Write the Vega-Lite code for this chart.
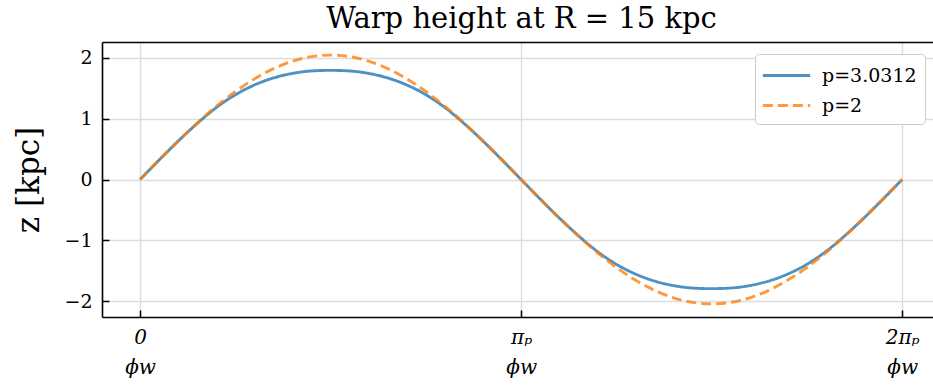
{
  "$schema": "https://vega.github.io/schema/vega-lite/v6.json",
  "autosize": {"type": "none"},
  "padding": {"left": 102, "top": 42, "right": 0, "bottom": 68},
  "width": 831,
  "height": 275,
  "background": "white",
  "title": {"text": "Warp height at R = 15 kpc", "font": "DejaVu Serif", "fontSize": 29, "fontWeight": "normal", "color": "black", "anchor": "middle", "dx": 4, "offset": 8},
  "config": {
    "view": {"stroke": null},
    "axis": {"domainColor": "black", "domainWidth": 1.6, "tickColor": "black", "tickWidth": 1.5, "gridColor": "#dddddd", "gridWidth": 1.4, "labelColor": "black", "titleColor": "black", "labelFont": "DejaVu Serif", "titleFont": "DejaVu Serif", "titleFontWeight": "normal"}
  },
  "data": {"values": [
    {"phi": 0, "z": 0, "p": "p=3.0312"},
    {"phi": 0.05, "z": 0.32, "p": "p=3.0312"},
    {"phi": 0.1, "z": 0.63, "p": "p=3.0312"},
    {"phi": 0.15, "z": 0.92, "p": "p=3.0312"},
    {"phi": 0.2, "z": 1.18, "p": "p=3.0312"},
    {"phi": 0.25, "z": 1.39, "p": "p=3.0312"},
    {"phi": 0.3, "z": 1.55, "p": "p=3.0312"},
    {"phi": 0.35, "z": 1.665, "p": "p=3.0312"},
    {"phi": 0.4, "z": 1.74, "p": "p=3.0312"},
    {"phi": 0.45, "z": 1.78, "p": "p=3.0312"},
    {"phi": 0.5, "z": 1.79, "p": "p=3.0312"},
    {"phi": 0.55, "z": 1.78, "p": "p=3.0312"},
    {"phi": 0.6, "z": 1.74, "p": "p=3.0312"},
    {"phi": 0.65, "z": 1.665, "p": "p=3.0312"},
    {"phi": 0.7, "z": 1.55, "p": "p=3.0312"},
    {"phi": 0.75, "z": 1.39, "p": "p=3.0312"},
    {"phi": 0.8, "z": 1.18, "p": "p=3.0312"},
    {"phi": 0.85, "z": 0.92, "p": "p=3.0312"},
    {"phi": 0.9, "z": 0.63, "p": "p=3.0312"},
    {"phi": 0.95, "z": 0.32, "p": "p=3.0312"},
    {"phi": 1.0, "z": 0, "p": "p=3.0312"},
    {"phi": 1.05, "z": -0.32, "p": "p=3.0312"},
    {"phi": 1.1, "z": -0.63, "p": "p=3.0312"},
    {"phi": 1.15, "z": -0.92, "p": "p=3.0312"},
    {"phi": 1.2, "z": -1.18, "p": "p=3.0312"},
    {"phi": 1.25, "z": -1.39, "p": "p=3.0312"},
    {"phi": 1.3, "z": -1.55, "p": "p=3.0312"},
    {"phi": 1.35, "z": -1.665, "p": "p=3.0312"},
    {"phi": 1.4, "z": -1.74, "p": "p=3.0312"},
    {"phi": 1.45, "z": -1.78, "p": "p=3.0312"},
    {"phi": 1.5, "z": -1.79, "p": "p=3.0312"},
    {"phi": 1.55, "z": -1.78, "p": "p=3.0312"},
    {"phi": 1.6, "z": -1.74, "p": "p=3.0312"},
    {"phi": 1.65, "z": -1.665, "p": "p=3.0312"},
    {"phi": 1.7, "z": -1.55, "p": "p=3.0312"},
    {"phi": 1.75, "z": -1.39, "p": "p=3.0312"},
    {"phi": 1.8, "z": -1.18, "p": "p=3.0312"},
    {"phi": 1.85, "z": -0.92, "p": "p=3.0312"},
    {"phi": 1.9, "z": -0.63, "p": "p=3.0312"},
    {"phi": 1.95, "z": -0.32, "p": "p=3.0312"},
    {"phi": 2.0, "z": 0, "p": "p=3.0312"},
    {"phi": 0, "z": 0, "p": "p=2"},
    {"phi": 0.05, "z": 0.319, "p": "p=2"},
    {"phi": 0.1, "z": 0.63, "p": "p=2"},
    {"phi": 0.15, "z": 0.926, "p": "p=2"},
    {"phi": 0.2, "z": 1.199, "p": "p=2"},
    {"phi": 0.25, "z": 1.443, "p": "p=2"},
    {"phi": 0.3, "z": 1.65, "p": "p=2"},
    {"phi": 0.35, "z": 1.818, "p": "p=2"},
    {"phi": 0.4, "z": 1.94, "p": "p=2"},
    {"phi": 0.45, "z": 2.015, "p": "p=2"},
    {"phi": 0.5, "z": 2.04, "p": "p=2"},
    {"phi": 0.55, "z": 2.015, "p": "p=2"},
    {"phi": 0.6, "z": 1.94, "p": "p=2"},
    {"phi": 0.65, "z": 1.818, "p": "p=2"},
    {"phi": 0.7, "z": 1.65, "p": "p=2"},
    {"phi": 0.75, "z": 1.443, "p": "p=2"},
    {"phi": 0.8, "z": 1.199, "p": "p=2"},
    {"phi": 0.85, "z": 0.926, "p": "p=2"},
    {"phi": 0.9, "z": 0.63, "p": "p=2"},
    {"phi": 0.95, "z": 0.319, "p": "p=2"},
    {"phi": 1.0, "z": 0, "p": "p=2"},
    {"phi": 1.05, "z": -0.319, "p": "p=2"},
    {"phi": 1.1, "z": -0.63, "p": "p=2"},
    {"phi": 1.15, "z": -0.926, "p": "p=2"},
    {"phi": 1.2, "z": -1.199, "p": "p=2"},
    {"phi": 1.25, "z": -1.443, "p": "p=2"},
    {"phi": 1.3, "z": -1.65, "p": "p=2"},
    {"phi": 1.35, "z": -1.818, "p": "p=2"},
    {"phi": 1.4, "z": -1.94, "p": "p=2"},
    {"phi": 1.45, "z": -2.015, "p": "p=2"},
    {"phi": 1.5, "z": -2.04, "p": "p=2"},
    {"phi": 1.55, "z": -2.015, "p": "p=2"},
    {"phi": 1.6, "z": -1.94, "p": "p=2"},
    {"phi": 1.65, "z": -1.818, "p": "p=2"},
    {"phi": 1.7, "z": -1.65, "p": "p=2"},
    {"phi": 1.75, "z": -1.443, "p": "p=2"},
    {"phi": 1.8, "z": -1.199, "p": "p=2"},
    {"phi": 1.85, "z": -0.926, "p": "p=2"},
    {"phi": 1.9, "z": -0.63, "p": "p=2"},
    {"phi": 1.95, "z": -0.319, "p": "p=2"},
    {"phi": 2.0, "z": 0, "p": "p=2"}
  ]},
  "resolve": {"axis": {"x": "independent"}},
  "layer": [
    {
      "mark": {"type": "line", "strokeWidth": 2.9, "opacity": 0.8, "interpolate": "monotone"},
      "encoding": {
        "x": {"field": "phi", "type": "quantitative", "scale": {"domain": [-0.1, 2.081], "nice": false, "zero": false},
          "axis": {"orient": "bottom", "title": null, "values": [0, 1, 2], "tickSize": -7, "labelPadding": 17, "labelFontSize": 20, "labelFontStyle": "italic", "labelLineHeight": 30, "labelBaseline": "top",
            "labelExpr": "datum.value == 0 ? ['0', 'ϕw'] : datum.value == 1 ? ['πₚ', 'ϕw'] : ['2πₚ', 'ϕw']"}},
        "y": {"field": "z", "type": "quantitative", "scale": {"domain": [-2.255, 2.255], "nice": false, "zero": false},
          "axis": {"title": "z [kpc]", "titleFontSize": 31, "titlePadding": 18, "values": [-2, -1, 0, 1, 2], "tickSize": -7, "labelPadding": 17, "labelFontSize": 19}},
        "color": {"field": "p", "type": "nominal", "scale": {"domain": ["p=3.0312", "p=2"], "range": ["#1f77b4", "#ff7f0e"]},
          "legend": {"title": null, "orient": "none", "legendX": 653, "legendY": 12, "symbolType": "M-2,0H2", "symbolSize": 560, "symbolStrokeWidth": 3, "symbolOffset": 10, "labelOffset": 22, "labelFont": "DejaVu Serif", "labelFontSize": 19, "labelColor": "black", "rowPadding": 6, "padding": 8, "fillColor": "white", "strokeColor": "#cccccc", "cornerRadius": 4}},
        "strokeDash": {"field": "p", "type": "nominal", "scale": {"domain": ["p=3.0312", "p=2"], "range": [[1, 0], [10, 5]]}, "legend": null}
      }
    },
    {
      "mark": {"type": "point", "opacity": 0},
      "encoding": {
        "x": {"field": "phi", "type": "quantitative", "axis": {"orient": "top", "title": null, "labels": false, "ticks": false, "grid": false, "domain": true}}
      }
    }
  ]
}
